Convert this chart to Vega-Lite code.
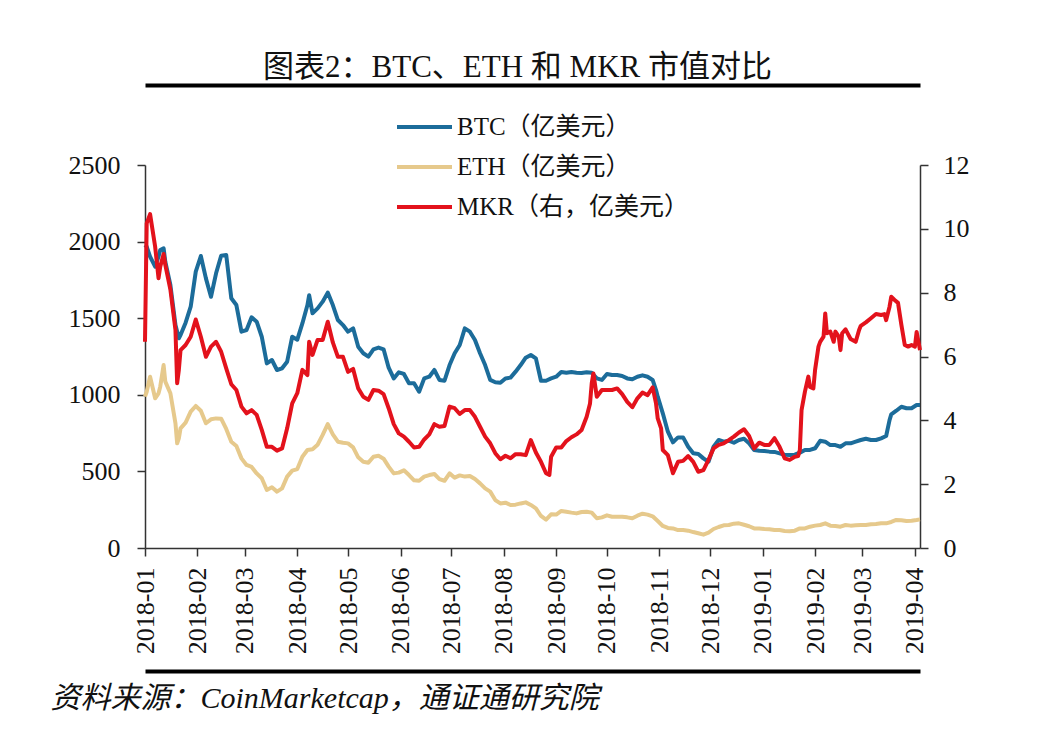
{
  "$schema": "https://vega.github.io/schema/vega-lite/v6.json",
  "width": 775,
  "height": 383,
  "autosize": {"type": "none"},
  "padding": {"left": 145, "top": 165, "right": 118, "bottom": 204},
  "background": "white",
  "config": {
    "font": "Liberation Serif, Noto Sans CJK SC",
    "view": {"stroke": null},
    "axis": {"grid": false, "domainColor": "#333333", "tickColor": "#333333", "labelColor": "#111111", "labelFontSize": 25, "labelFont": "Liberation Serif, Noto Sans CJK SC", "domainWidth": 1.5, "tickWidth": 1.5}
  },
  "datasets": {
    "btc": [
      {"d":"2018-01-01","v":1978},{"d":"2018-01-02","v":1967},{"d":"2018-01-04","v":1902},{"d":"2018-01-07","v":1836},{"d":"2018-01-09","v":1902},{"d":"2018-01-10","v":1945},{"d":"2018-01-12","v":1956},{"d":"2018-01-13","v":1869},{"d":"2018-01-16","v":1717},{"d":"2018-01-19","v":1455},{"d":"2018-01-21","v":1369},{"d":"2018-01-22","v":1390},{"d":"2018-01-25","v":1471},{"d":"2018-01-28","v":1575},{"d":"2018-01-31","v":1804},
      {"d":"2018-02-03","v":1906},{"d":"2018-02-06","v":1760},{"d":"2018-02-09","v":1640},{"d":"2018-02-12","v":1793},{"d":"2018-02-15","v":1908},{"d":"2018-02-18","v":1912},{"d":"2018-02-21","v":1630},{"d":"2018-02-24","v":1586},{"d":"2018-02-27","v":1412},
      {"d":"2018-03-02","v":1423},{"d":"2018-03-05","v":1506},{"d":"2018-03-08","v":1477},{"d":"2018-03-11","v":1379},{"d":"2018-03-14","v":1205},{"d":"2018-03-17","v":1227},{"d":"2018-03-20","v":1162},{"d":"2018-03-23","v":1173},{"d":"2018-03-26","v":1216},{"d":"2018-03-29","v":1379},
      {"d":"2018-04-01","v":1360},{"d":"2018-04-04","v":1466},{"d":"2018-04-07","v":1586},{"d":"2018-04-08","v":1650},{"d":"2018-04-10","v":1532},{"d":"2018-04-13","v":1564},{"d":"2018-04-16","v":1608},{"d":"2018-04-19","v":1667},{"d":"2018-04-22","v":1586},{"d":"2018-04-25","v":1488},{"d":"2018-04-28","v":1455},
      {"d":"2018-05-01","v":1412},{"d":"2018-05-04","v":1434},{"d":"2018-05-07","v":1314},{"d":"2018-05-10","v":1271},{"d":"2018-05-13","v":1249},{"d":"2018-05-16","v":1297},{"d":"2018-05-19","v":1308},{"d":"2018-05-22","v":1297},{"d":"2018-05-25","v":1177},{"d":"2018-05-28","v":1107},{"d":"2018-05-31","v":1147},
      {"d":"2018-06-03","v":1136},{"d":"2018-06-06","v":1075},{"d":"2018-06-09","v":1075},{"d":"2018-06-12","v":1020},{"d":"2018-06-15","v":1107},{"d":"2018-06-18","v":1118},{"d":"2018-06-21","v":1162},{"d":"2018-06-24","v":1097},{"d":"2018-06-27","v":1092},{"d":"2018-06-30","v":1194},
      {"d":"2018-07-03","v":1271},{"d":"2018-07-06","v":1325},{"d":"2018-07-09","v":1434},{"d":"2018-07-12","v":1412},{"d":"2018-07-15","v":1358},{"d":"2018-07-18","v":1271},{"d":"2018-07-21","v":1194},{"d":"2018-07-24","v":1097},{"d":"2018-07-27","v":1082},{"d":"2018-07-30","v":1079},
      {"d":"2018-08-02","v":1107},{"d":"2018-08-05","v":1112},{"d":"2018-08-08","v":1151},{"d":"2018-08-11","v":1194},{"d":"2018-08-14","v":1242},{"d":"2018-08-17","v":1260},{"d":"2018-08-20","v":1238},{"d":"2018-08-23","v":1092},{"d":"2018-08-26","v":1092},{"d":"2018-08-29","v":1107},
      {"d":"2018-09-01","v":1118},{"d":"2018-09-04","v":1149},{"d":"2018-09-07","v":1144},{"d":"2018-09-10","v":1149},{"d":"2018-09-13","v":1144},{"d":"2018-09-16","v":1142},{"d":"2018-09-19","v":1147},{"d":"2018-09-22","v":1144},{"d":"2018-09-25","v":1107},{"d":"2018-09-28","v":1097},
      {"d":"2018-10-01","v":1136},{"d":"2018-10-04","v":1129},{"d":"2018-10-07","v":1129},{"d":"2018-10-10","v":1123},{"d":"2018-10-13","v":1107},{"d":"2018-10-16","v":1101},{"d":"2018-10-19","v":1118},{"d":"2018-10-22","v":1127},{"d":"2018-10-25","v":1118},{"d":"2018-10-28","v":1097},{"d":"2018-10-30","v":1031},{"d":"2018-10-31","v":988},
      {"d":"2018-11-03","v":879},{"d":"2018-11-06","v":759},{"d":"2018-11-09","v":690},{"d":"2018-11-12","v":722},{"d":"2018-11-15","v":722},{"d":"2018-11-18","v":661},{"d":"2018-11-21","v":618},{"d":"2018-11-24","v":614},{"d":"2018-11-27","v":585},{"d":"2018-11-30","v":563},
      {"d":"2018-12-03","v":661},{"d":"2018-12-06","v":705},{"d":"2018-12-09","v":694},{"d":"2018-12-12","v":700},{"d":"2018-12-15","v":687},{"d":"2018-12-18","v":705},{"d":"2018-12-21","v":713},{"d":"2018-12-24","v":683},{"d":"2018-12-27","v":640},{"d":"2018-12-30","v":635},
      {"d":"2019-01-02","v":633},{"d":"2019-01-05","v":629},{"d":"2019-01-08","v":627},{"d":"2019-01-11","v":618},{"d":"2019-01-14","v":609},{"d":"2019-01-17","v":607},{"d":"2019-01-20","v":609},{"d":"2019-01-23","v":622},{"d":"2019-01-26","v":640},{"d":"2019-01-29","v":640},
      {"d":"2019-02-01","v":651},{"d":"2019-02-04","v":700},{"d":"2019-02-07","v":694},{"d":"2019-02-10","v":672},{"d":"2019-02-13","v":672},{"d":"2019-02-16","v":661},{"d":"2019-02-19","v":683},{"d":"2019-02-22","v":683},{"d":"2019-02-25","v":694},{"d":"2019-02-28","v":705},
      {"d":"2019-03-03","v":713},{"d":"2019-03-06","v":705},{"d":"2019-03-09","v":705},{"d":"2019-03-12","v":716},{"d":"2019-03-15","v":731},{"d":"2019-03-17","v":835},{"d":"2019-03-18","v":872},{"d":"2019-03-21","v":896},{"d":"2019-03-24","v":922},{"d":"2019-03-27","v":912},{"d":"2019-03-30","v":912},{"d":"2019-04-02","v":933},{"d":"2019-04-04","v":933}
    ],
    "eth": [
      {"d":"2018-01-01","v":988},{"d":"2018-01-02","v":1020},{"d":"2018-01-04","v":1118},{"d":"2018-01-07","v":977},{"d":"2018-01-09","v":1010},{"d":"2018-01-10","v":1053},{"d":"2018-01-12","v":1194},{"d":"2018-01-13","v":1086},{"d":"2018-01-16","v":1010},{"d":"2018-01-19","v":814},{"d":"2018-01-20","v":683},{"d":"2018-01-21","v":716},{"d":"2018-01-22","v":781},{"d":"2018-01-25","v":818},{"d":"2018-01-28","v":890},{"d":"2018-01-31","v":927},
      {"d":"2018-02-03","v":896},{"d":"2018-02-06","v":814},{"d":"2018-02-09","v":840},{"d":"2018-02-12","v":846},{"d":"2018-02-15","v":844},{"d":"2018-02-18","v":777},{"d":"2018-02-21","v":694},{"d":"2018-02-24","v":666},{"d":"2018-02-27","v":585},
      {"d":"2018-03-02","v":542},{"d":"2018-03-05","v":529},{"d":"2018-03-08","v":487},{"d":"2018-03-11","v":455},{"d":"2018-03-14","v":379},{"d":"2018-03-17","v":396},{"d":"2018-03-20","v":368},{"d":"2018-03-23","v":389},{"d":"2018-03-26","v":466},{"d":"2018-03-29","v":505},
      {"d":"2018-04-01","v":515},{"d":"2018-04-04","v":596},{"d":"2018-04-07","v":640},{"d":"2018-04-10","v":644},{"d":"2018-04-13","v":674},{"d":"2018-04-16","v":738},{"d":"2018-04-19","v":809},{"d":"2018-04-22","v":742},{"d":"2018-04-25","v":694},{"d":"2018-04-28","v":687},
      {"d":"2018-05-01","v":683},{"d":"2018-05-04","v":657},{"d":"2018-05-07","v":592},{"d":"2018-05-10","v":563},{"d":"2018-05-13","v":557},{"d":"2018-05-16","v":596},{"d":"2018-05-19","v":602},{"d":"2018-05-22","v":583},{"d":"2018-05-25","v":531},{"d":"2018-05-28","v":487},{"d":"2018-05-31","v":492},
      {"d":"2018-06-03","v":507},{"d":"2018-06-06","v":476},{"d":"2018-06-09","v":442},{"d":"2018-06-12","v":439},{"d":"2018-06-15","v":466},{"d":"2018-06-18","v":476},{"d":"2018-06-21","v":483},{"d":"2018-06-24","v":450},{"d":"2018-06-27","v":439},{"d":"2018-06-30","v":487},
      {"d":"2018-07-03","v":459},{"d":"2018-07-06","v":474},{"d":"2018-07-09","v":466},{"d":"2018-07-12","v":470},{"d":"2018-07-15","v":450},{"d":"2018-07-18","v":422},{"d":"2018-07-21","v":389},{"d":"2018-07-24","v":368},{"d":"2018-07-27","v":313},{"d":"2018-07-30","v":291},
      {"d":"2018-08-02","v":296},{"d":"2018-08-05","v":281},{"d":"2018-08-08","v":283},{"d":"2018-08-11","v":291},{"d":"2018-08-14","v":298},{"d":"2018-08-17","v":281},{"d":"2018-08-20","v":259},{"d":"2018-08-23","v":209},{"d":"2018-08-26","v":185},{"d":"2018-08-29","v":220},
      {"d":"2018-09-01","v":218},{"d":"2018-09-04","v":242},{"d":"2018-09-07","v":237},{"d":"2018-09-10","v":231},{"d":"2018-09-13","v":226},{"d":"2018-09-16","v":235},{"d":"2018-09-19","v":237},{"d":"2018-09-22","v":231},{"d":"2018-09-25","v":194},{"d":"2018-09-28","v":200},
      {"d":"2018-10-01","v":213},{"d":"2018-10-04","v":204},{"d":"2018-10-07","v":204},{"d":"2018-10-10","v":204},{"d":"2018-10-13","v":200},{"d":"2018-10-16","v":194},{"d":"2018-10-19","v":211},{"d":"2018-10-22","v":224},{"d":"2018-10-25","v":218},{"d":"2018-10-28","v":207},{"d":"2018-10-31","v":176},
      {"d":"2018-11-03","v":144},{"d":"2018-11-06","v":131},{"d":"2018-11-09","v":128},{"d":"2018-11-12","v":117},{"d":"2018-11-15","v":117},{"d":"2018-11-18","v":113},{"d":"2018-11-21","v":104},{"d":"2018-11-24","v":96},{"d":"2018-11-27","v":87},{"d":"2018-11-30","v":100},
      {"d":"2018-12-03","v":124},{"d":"2018-12-06","v":137},{"d":"2018-12-09","v":148},{"d":"2018-12-12","v":150},{"d":"2018-12-15","v":159},{"d":"2018-12-18","v":161},{"d":"2018-12-21","v":152},{"d":"2018-12-24","v":142},{"d":"2018-12-27","v":128},{"d":"2018-12-30","v":128},
      {"d":"2019-01-02","v":124},{"d":"2019-01-05","v":122},{"d":"2019-01-08","v":117},{"d":"2019-01-11","v":117},{"d":"2019-01-14","v":111},{"d":"2019-01-17","v":109},{"d":"2019-01-20","v":113},{"d":"2019-01-23","v":128},{"d":"2019-01-26","v":128},{"d":"2019-01-29","v":139},
      {"d":"2019-02-01","v":146},{"d":"2019-02-04","v":150},{"d":"2019-02-07","v":161},{"d":"2019-02-10","v":146},{"d":"2019-02-13","v":144},{"d":"2019-02-16","v":139},{"d":"2019-02-19","v":150},{"d":"2019-02-22","v":146},{"d":"2019-02-25","v":148},{"d":"2019-02-28","v":150},
      {"d":"2019-03-03","v":150},{"d":"2019-03-06","v":155},{"d":"2019-03-09","v":157},{"d":"2019-03-12","v":161},{"d":"2019-03-15","v":161},{"d":"2019-03-18","v":170},{"d":"2019-03-21","v":183},{"d":"2019-03-24","v":181},{"d":"2019-03-27","v":176},{"d":"2019-03-30","v":178},{"d":"2019-04-02","v":183},{"d":"2019-04-04","v":187}
    ],
    "mkr": [
      {"d":"2018-01-01","v":6.46},{"d":"2018-01-02","v":10.17},{"d":"2018-01-04","v":10.46},{"d":"2018-01-07","v":9.44},{"d":"2018-01-09","v":8.45},{"d":"2018-01-10","v":8.81},{"d":"2018-01-12","v":9.21},{"d":"2018-01-13","v":8.87},{"d":"2018-01-16","v":8.10},{"d":"2018-01-19","v":6.83},{"d":"2018-01-20","v":5.16},{"d":"2018-01-21","v":5.58},{"d":"2018-01-22","v":6.20},{"d":"2018-01-25","v":6.36},{"d":"2018-01-28","v":6.62},{"d":"2018-01-31","v":7.16},
      {"d":"2018-02-03","v":6.62},{"d":"2018-02-06","v":5.99},{"d":"2018-02-09","v":6.31},{"d":"2018-02-12","v":6.46},{"d":"2018-02-15","v":6.15},{"d":"2018-02-18","v":5.63},{"d":"2018-02-21","v":5.13},{"d":"2018-02-24","v":4.95},{"d":"2018-02-27","v":4.43},
      {"d":"2018-03-02","v":4.22},{"d":"2018-03-05","v":4.32},{"d":"2018-03-08","v":4.17},{"d":"2018-03-11","v":3.70},{"d":"2018-03-14","v":3.17},{"d":"2018-03-17","v":3.17},{"d":"2018-03-20","v":3.05},{"d":"2018-03-23","v":3.12},{"d":"2018-03-26","v":3.75},{"d":"2018-03-29","v":4.53},
      {"d":"2018-04-01","v":4.85},{"d":"2018-04-04","v":5.58},{"d":"2018-04-07","v":5.42},{"d":"2018-04-08","v":6.46},{"d":"2018-04-10","v":6.05},{"d":"2018-04-13","v":6.52},{"d":"2018-04-16","v":6.52},{"d":"2018-04-19","v":7.09},{"d":"2018-04-22","v":6.44},{"d":"2018-04-25","v":5.99},{"d":"2018-04-28","v":5.99},
      {"d":"2018-05-01","v":5.52},{"d":"2018-05-04","v":5.61},{"d":"2018-05-07","v":5.00},{"d":"2018-05-10","v":4.74},{"d":"2018-05-13","v":4.64},{"d":"2018-05-16","v":4.95},{"d":"2018-05-19","v":4.93},{"d":"2018-05-22","v":4.82},{"d":"2018-05-25","v":4.38},{"d":"2018-05-28","v":3.88},{"d":"2018-05-31","v":3.59},
      {"d":"2018-06-03","v":3.49},{"d":"2018-06-06","v":3.33},{"d":"2018-06-09","v":3.15},{"d":"2018-06-12","v":3.17},{"d":"2018-06-15","v":3.40},{"d":"2018-06-18","v":3.56},{"d":"2018-06-21","v":3.88},{"d":"2018-06-24","v":3.80},{"d":"2018-06-27","v":3.82},{"d":"2018-06-30","v":4.43},
      {"d":"2018-07-03","v":4.38},{"d":"2018-07-06","v":4.20},{"d":"2018-07-09","v":4.32},{"d":"2018-07-12","v":4.32},{"d":"2018-07-15","v":4.11},{"d":"2018-07-18","v":3.80},{"d":"2018-07-21","v":3.49},{"d":"2018-07-24","v":3.28},{"d":"2018-07-27","v":2.97},{"d":"2018-07-30","v":2.78},
      {"d":"2018-08-02","v":2.89},{"d":"2018-08-05","v":2.81},{"d":"2018-08-08","v":2.94},{"d":"2018-08-11","v":2.94},{"d":"2018-08-14","v":2.91},{"d":"2018-08-17","v":3.38},{"d":"2018-08-20","v":2.99},{"d":"2018-08-23","v":2.70},{"d":"2018-08-26","v":2.34},{"d":"2018-08-28","v":2.29},{"d":"2018-08-29","v":2.86},
      {"d":"2018-09-01","v":3.15},{"d":"2018-09-04","v":3.15},{"d":"2018-09-07","v":3.35},{"d":"2018-09-10","v":3.47},{"d":"2018-09-13","v":3.56},{"d":"2018-09-16","v":3.70},{"d":"2018-09-19","v":4.11},{"d":"2018-09-21","v":4.53},{"d":"2018-09-22","v":5.16},{"d":"2018-09-23","v":5.47},{"d":"2018-09-25","v":4.74},{"d":"2018-09-28","v":4.95},
      {"d":"2018-10-01","v":4.95},{"d":"2018-10-04","v":4.95},{"d":"2018-10-07","v":5.00},{"d":"2018-10-10","v":4.82},{"d":"2018-10-13","v":4.58},{"d":"2018-10-16","v":4.41},{"d":"2018-10-19","v":4.69},{"d":"2018-10-22","v":4.87},{"d":"2018-10-25","v":4.79},{"d":"2018-10-28","v":5.03},{"d":"2018-10-30","v":4.53},{"d":"2018-10-31","v":4.06},
      {"d":"2018-11-02","v":3.75},{"d":"2018-11-03","v":3.07},{"d":"2018-11-06","v":2.91},{"d":"2018-11-09","v":2.34},{"d":"2018-11-12","v":2.70},{"d":"2018-11-15","v":2.73},{"d":"2018-11-18","v":2.88},{"d":"2018-11-21","v":2.70},{"d":"2018-11-24","v":2.39},{"d":"2018-11-27","v":2.44},{"d":"2018-11-30","v":2.76},
      {"d":"2018-12-03","v":3.12},{"d":"2018-12-06","v":3.23},{"d":"2018-12-09","v":3.28},{"d":"2018-12-12","v":3.38},{"d":"2018-12-15","v":3.49},{"d":"2018-12-18","v":3.62},{"d":"2018-12-21","v":3.72},{"d":"2018-12-24","v":3.51},{"d":"2018-12-27","v":3.12},{"d":"2018-12-30","v":3.30},
      {"d":"2019-01-02","v":3.23},{"d":"2019-01-05","v":3.23},{"d":"2019-01-08","v":3.44},{"d":"2019-01-11","v":3.17},{"d":"2019-01-14","v":2.81},{"d":"2019-01-17","v":2.76},{"d":"2019-01-20","v":2.86},{"d":"2019-01-22","v":2.88},{"d":"2019-01-23","v":3.07},{"d":"2019-01-24","v":4.32},{"d":"2019-01-26","v":4.90},{"d":"2019-01-28","v":5.37},{"d":"2019-01-29","v":5.05},{"d":"2019-01-31","v":5.00},
      {"d":"2019-02-01","v":5.58},{"d":"2019-02-03","v":6.31},{"d":"2019-02-04","v":6.46},{"d":"2019-02-06","v":6.62},{"d":"2019-02-07","v":7.35},{"d":"2019-02-08","v":6.73},{"d":"2019-02-10","v":6.78},{"d":"2019-02-12","v":6.46},{"d":"2019-02-13","v":6.78},{"d":"2019-02-15","v":6.62},{"d":"2019-02-16","v":6.20},{"d":"2019-02-17","v":6.73},{"d":"2019-02-19","v":6.85},{"d":"2019-02-22","v":6.55},{"d":"2019-02-25","v":6.46},{"d":"2019-02-27","v":6.83},{"d":"2019-02-28","v":6.96},
      {"d":"2019-03-03","v":7.07},{"d":"2019-03-06","v":7.20},{"d":"2019-03-09","v":7.33},{"d":"2019-03-12","v":7.30},{"d":"2019-03-14","v":7.33},{"d":"2019-03-15","v":7.14},{"d":"2019-03-17","v":7.56},{"d":"2019-03-18","v":7.87},{"d":"2019-03-20","v":7.77},{"d":"2019-03-22","v":7.68},{"d":"2019-03-24","v":6.99},{"d":"2019-03-26","v":6.36},{"d":"2019-03-28","v":6.31},{"d":"2019-03-30","v":6.36},{"d":"2019-04-01","v":6.31},{"d":"2019-04-02","v":6.77},{"d":"2019-04-04","v":6.20}
    ]
  },
  "layer": [
    {
      "layer": [
        {
          "data": {"name": "btc"},
          "mark": {"type": "line", "strokeWidth": 4, "strokeJoin": "round"},
          "encoding": {
            "x": {"field": "d", "type": "temporal",
              "scale": {"type": "utc", "domain": [{"year": 2018, "month": 1, "date": 1, "utc": true}, {"year": 2019, "month": 4, "date": 4, "utc": true}]},
              "axis": {"title": null, "orient": "bottom", "format": "%Y-%m", "tickCount": {"interval": "month", "step": 1}, "labelAngle": -90, "tickSize": 8, "labelPadding": 11, "labelFontSize": 26, "labelBound": false, "labelOverlap": false, "labelFlush": false}},
            "y": {"field": "v", "type": "quantitative",
              "scale": {"domain": [0, 2500], "nice": false},
              "axis": {"title": null, "format": "d", "values": [0, 500, 1000, 1500, 2000, 2500], "tickSize": 8, "labelPadding": 17, "labelFontSize": 26}},
            "color": {"datum": "BTC（亿美元）", "type": "nominal",
              "scale": {"domain": ["BTC（亿美元）", "ETH（亿美元）", "MKR（右，亿美元）"], "range": ["#1c6c9a", "#e6c98c", "#e3121c"]},
              "legend": {"orient": "none", "legendX": 250, "legendY": -58, "title": null, "symbolType": "stroke", "symbolSize": 3025, "symbolStrokeWidth": 4, "clipHeight": 40, "rowPadding": 0, "padding": 0, "labelOffset": 3, "labelFontSize": 25, "labelColor": "#111111", "labelFont": "Liberation Serif, Noto Sans CJK SC", "labelLimit": 400}}
          }
        },
        {
          "data": {"name": "eth"},
          "mark": {"type": "line", "strokeWidth": 4, "strokeJoin": "round"},
          "encoding": {
            "x": {"field": "d", "type": "temporal",
              "axis": {"orient": "bottom", "offset": 123, "labels": false, "ticks": false, "domainWidth": 4, "domainColor": "#000000",
                "title": "资料来源：CoinMarketcap，通证通研究院", "titleX": -95, "titleY": 36, "titleAlign": "left", "titleAnchor": "start", "titleBaseline": "alphabetic", "titleAngle": 0, "titleFontStyle": "italic", "titleFontWeight": "normal", "titleFontSize": 30, "titleColor": "#111111", "titleFont": "Liberation Serif, Noto Sans CJK SC"}},
            "y": {"field": "v", "type": "quantitative"},
            "color": {"datum": "ETH（亿美元）", "type": "nominal"}
          }
        }
      ],
      "resolve": {"axis": {"x": "independent"}}
    },
    {
      "data": {"name": "mkr"},
      "mark": {"type": "line", "strokeWidth": 4, "strokeJoin": "round"},
      "encoding": {
        "x": {"field": "d", "type": "temporal",
          "axis": {"orient": "top", "offset": 80, "labels": false, "ticks": false, "domainWidth": 4, "domainColor": "#000000",
            "title": "图表2：BTC、ETH 和 MKR 市值对比", "titleX": 372, "titleY": -9, "titleAlign": "center", "titleAnchor": "middle", "titleBaseline": "alphabetic", "titleAngle": 0, "titleFontWeight": "normal", "titleFontSize": 31, "titleColor": "#111111", "titleFont": "Liberation Serif, Noto Sans CJK SC"}},
        "y": {"field": "v", "type": "quantitative",
          "scale": {"domain": [0, 12], "nice": false},
          "axis": {"orient": "right", "title": null, "values": [0, 2, 4, 6, 8, 10, 12], "tickSize": 8, "labelPadding": 15, "labelFontSize": 26}},
        "color": {"datum": "MKR（右，亿美元）", "type": "nominal"}
      }
    }
  ],
  "resolve": {"scale": {"y": "independent"}, "axis": {"x": "independent"}}
}
